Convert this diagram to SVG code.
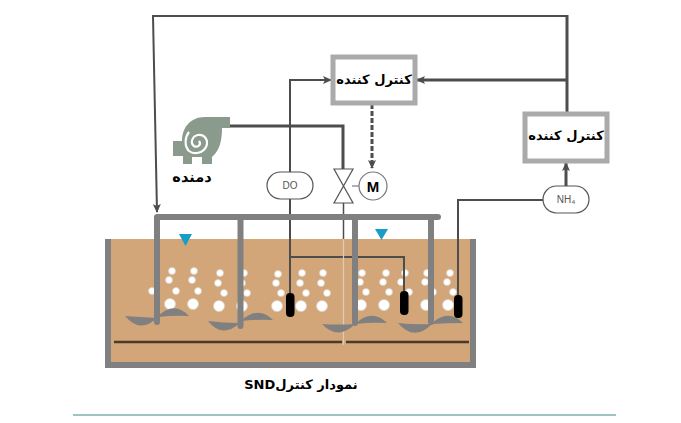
<svg xmlns="http://www.w3.org/2000/svg" width="681" height="423" viewBox="0 0 681 423">
<style>
text{font-family:"DejaVu Sans","Noto Sans",sans-serif;fill:#000}
.ctl{fill:#fff;stroke:#aaa;stroke-width:5}
.ct{font-size:13px;font-weight:bold;text-anchor:middle}
.inst{fill:#fff;stroke:#555;stroke-width:1.200}
.il{font-family:"Liberation Sans",sans-serif;font-size:10px;fill:#555;text-anchor:middle}
.ln{fill:none;stroke:#4d4d4d;stroke-width:2}
.lnb{fill:none;stroke:#4d4d4d;stroke-width:3}
.pipe{fill:none;stroke:#808080;stroke-width:6;stroke-linecap:round}
.b{fill:#fff;stroke:#d8d0c6;stroke-width:.8}
.blade{fill:#808080}
.probe{fill:#000}
.wl{fill:#1a9cc8}
</style>
<defs>
<marker id="ah" markerWidth="9" markerHeight="8" refX="8" refY="4" orient="auto" markerUnits="userSpaceOnUse"><path d="M0 0L9 4L0 8L2 4Z" fill="#4d4d4d"/></marker>
</defs>
<g id="tank">
<rect x="108" y="239" width="365" height="126" fill="#d2a679"/>
<path d="M108 239V365H473V239" fill="none" stroke="#808080" stroke-width="6"/>
<path d="M114 342H342M346 342H469" stroke="#4a3a2c" stroke-width="2.500"/>
<polygon class="wl" points="179,234 192,234 185.500,246"/>
<polygon class="wl" points="375,229 388,229 381.500,240"/>
</g>
<g id="bubbles">
<g class="b">
<circle cx="172" cy="271" r="3.500"/><circle cx="194" cy="271" r="3.500"/><circle cx="169" cy="280" r="3.500"/><circle cx="192" cy="280" r="3.500"/><circle cx="152" cy="291" r="3.500"/><circle cx="176" cy="291" r="3.500"/><circle cx="198" cy="291" r="3.500"/><circle cx="170" cy="304" r="5.500"/><circle cx="193" cy="304" r="5.500"/>
<circle cx="220" cy="273" r="3.500"/><circle cx="244" cy="273" r="3.500"/><circle cx="218" cy="283" r="3.500"/><circle cx="242" cy="283" r="3.500"/><circle cx="224" cy="293" r="3.500"/><circle cx="247" cy="293" r="3.500"/><circle cx="219" cy="306" r="5.500"/><circle cx="242" cy="306" r="5.500"/>
<circle cx="278" cy="274" r="3.500"/><circle cx="302" cy="273" r="3.500"/><circle cx="323" cy="273" r="3.500"/><circle cx="276" cy="283" r="3.500"/><circle cx="300" cy="283" r="3.500"/><circle cx="321" cy="283" r="3.500"/><circle cx="281" cy="293" r="3.500"/><circle cx="306" cy="293" r="3.500"/><circle cx="327" cy="293" r="3.500"/><circle cx="277" cy="306" r="5.500"/><circle cx="301" cy="306" r="5.500"/><circle cx="322" cy="306" r="5.500"/>
<circle cx="362" cy="273" r="3.500"/><circle cx="386" cy="273" r="3.500"/><circle cx="405" cy="273" r="3.500"/><circle cx="360" cy="282" r="3.500"/><circle cx="383" cy="282" r="3.500"/><circle cx="401" cy="282" r="3.500"/><circle cx="366" cy="292" r="3.500"/><circle cx="389" cy="292" r="3.500"/><circle cx="409" cy="292" r="3.500"/><circle cx="361" cy="305" r="5.500"/><circle cx="384" cy="305" r="5.500"/>
<circle cx="427" cy="273" r="3.500"/><circle cx="450" cy="273" r="3.500"/><circle cx="425" cy="282" r="3.500"/><circle cx="447" cy="282" r="3.500"/><circle cx="433" cy="292" r="3.500"/><circle cx="453" cy="292" r="3.500"/><circle cx="426" cy="305" r="5.500"/><circle cx="448" cy="305" r="5.500"/>
</g>
</g>
<g id="connectors">
<path class="ln" d="M566 16H153L157 212" marker-end="url(#ah)"/>
<path class="lnb" d="M567 113V15"/>
<path class="lnb" d="M567 80H417" marker-end="url(#ah)"/>
<path class="lnb" d="M566 186V163" marker-end="url(#ah)"/>
<path class="ln" d="M290 172V80H331" marker-end="url(#ah)"/>
<path class="lnb" d="M230 126H343V169"/>
<path d="M372 104V168" fill="none" stroke="#4d4d4d" stroke-width="3" stroke-dasharray="5 2" marker-end="url(#ah)"/>
<path class="ln" d="M290 199V293"/>
<path class="ln" d="M290 257H404V291"/>
<path class="ln" d="M543 200H458V295"/>
<path d="M343.500 203V239" stroke="#4d4d4d" stroke-width="1.500" fill="none"/>
<path d="M343.500 239V345" stroke="#d9cdbb" stroke-width="1.200" fill="none"/>
<path d="M352 186H359" stroke="#999" stroke-width="1.500"/>
</g>
<g id="aeration">
<path class="pipe" d="M157 217H438M157 217V322M240.500 217V326M355 217V323M431 217V322"/>
<path class="blade" d="M125 316Q140 317 157 318Q140 334 125 316Z"/>
<path class="blade" d="M157 317Q174 300 189 316Q174 315 157 317Z"/>
<path class="blade" d="M208 321Q223 323 240 323Q222 339 208 321Z"/>
<path class="blade" d="M241 321Q258 305 273 320Q258 319 241 321Z"/>
<path class="blade" d="M322 324Q338 325 355 324Q338 341 322 324Z"/>
<path class="blade" d="M355 324Q372 308 387 323Q372 322 355 324Z"/>
<path class="blade" d="M398 323Q415 325 432 324Q414 342 398 323Z"/>
<path class="blade" d="M431 324Q448 308 463 323Q448 323 431 324Z"/>
</g>
<g id="probes">
<rect class="probe" x="286" y="293" width="8.500" height="24" rx="4"/>
<rect class="probe" x="400" y="291" width="8.500" height="24" rx="4"/>
<rect class="probe" x="454" y="295" width="8.500" height="23" rx="4"/>
</g>
<g id="controller-1">
<rect class="ctl" x="333" y="57" width="82" height="46"/>
<text class="ct" x="374" y="84" direction="rtl">کنترل کننده</text>
</g>
<g id="controller-2">
<rect class="ctl" x="525" y="114" width="82" height="47"/>
<text class="ct" x="566" y="140" direction="rtl">کنترل کننده</text>
</g>
<g id="do">
<rect class="inst" x="267" y="172" width="46" height="27" rx="13.500"/>
<text class="il" x="290" y="189">DO</text>
</g>
<g id="nh4">
<rect class="inst" x="543" y="186" width="46" height="27" rx="13.500"/>
<text class="il" x="566" y="203">NH₄</text>
</g>
<g id="valve">
<path d="M334 169H353L334 203H353Z" fill="#fff" stroke="#555" stroke-width="1.200"/>
</g>
<g id="motor">
<circle cx="373" cy="186" r="14" fill="#fff" stroke="#777" stroke-width="1.200"/>
<text x="373" y="191.500" font-size="15" font-weight="bold" text-anchor="middle" style='font-family:"Liberation Sans",sans-serif'>M</text>
</g>
<g id="blower">
<path d="M230 117V128H222C222 140 220 150 212 157V164H202V157H192V164H183V156H173V141H182C182 128 190 117 205 117Z" fill="#8a9a8c"/>
<path d="M199 141C202 145 197 148 194 146C190 143 192 136 198 135C205 134 209 141 206 147C203 153 194 155 189 151C184 146 185 137 189 132" fill="none" stroke="#fff" stroke-width="2.200"/>
<text x="192" y="182" font-size="14.500" font-weight="bold" text-anchor="middle" direction="rtl">دمنده</text>
</g>
<text x="301" y="389" font-size="13" font-weight="bold" text-anchor="middle" direction="rtl">نمودار کنترلSND</text>
<path d="M73 415H616" stroke="#3a8a8c" stroke-width="1"/>
</svg>
